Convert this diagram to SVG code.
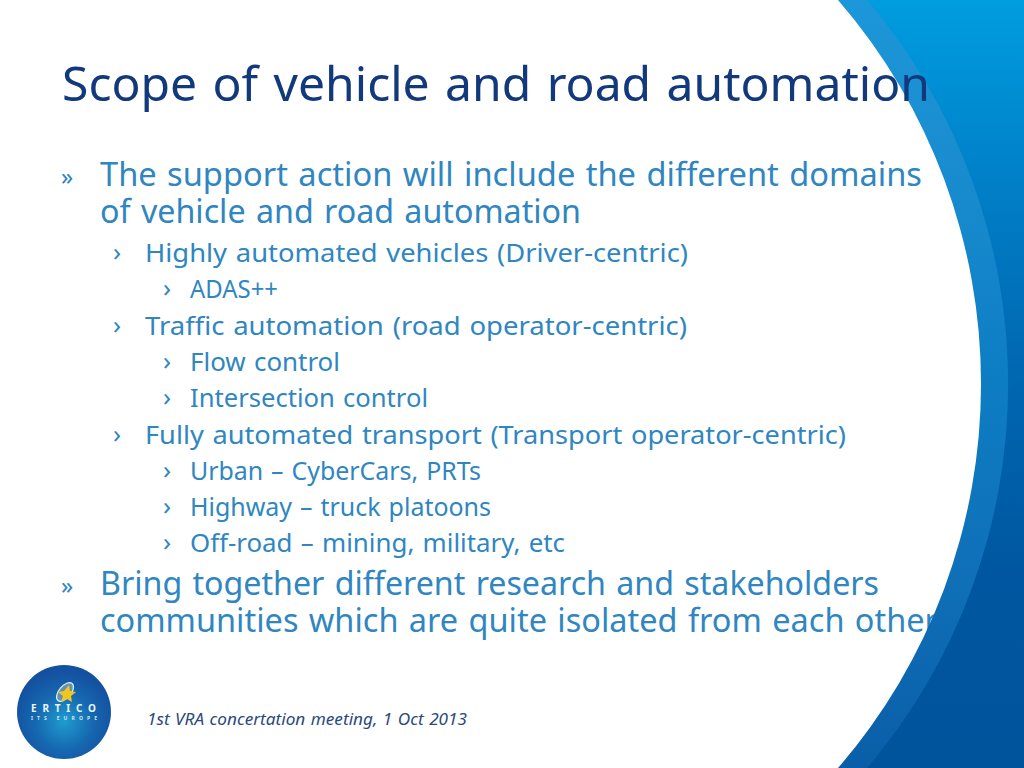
<svg xmlns="http://www.w3.org/2000/svg" width="1024" height="768" viewBox="0 0 1024 768">
<style>
text{font-family:"Noto Sans","Open Sans",sans-serif;word-spacing:.06em}
.t{font-size:48px;fill:#12397c}
.l1{font-size:32px;fill:#2f86c1}
.l2{font-size:26px;fill:#2f86c1}
.f{font-size:16px;font-style:italic;fill:#2b4a7c}
.b{font-size:24px}
</style>
<defs>
<linearGradient id="band" gradientUnits="userSpaceOnUse" x1="0" y1="0" x2="0" y2="768"><stop offset="0" stop-color="#1c97d9"/><stop offset=".2" stop-color="#1a8dd0"/><stop offset=".5" stop-color="#0d7dc3"/><stop offset=".75" stop-color="#0f70b8"/><stop offset="1" stop-color="#0a5ea8"/></linearGradient>
<linearGradient id="main" gradientUnits="userSpaceOnUse" x1="0" y1="0" x2="0" y2="768"><stop offset="0" stop-color="#009ddf"/><stop offset=".25" stop-color="#007ec6"/><stop offset=".5" stop-color="#0066b0"/><stop offset=".75" stop-color="#0056a0"/><stop offset="1" stop-color="#00549c"/></linearGradient>
<radialGradient id="disc" cx=".5" cy=".6" r=".55"><stop offset="0" stop-color="#1f9ccf"/><stop offset=".55" stop-color="#1668b0"/><stop offset="1" stop-color="#14509f"/></radialGradient>
</defs>
<rect width="1024" height="768" fill="#fff"/>
<g id="body">
<text class="l1 b" x="61" y="185" style="font-size:24px">»</text>
<text class="l1" x="100" y="186" textLength="822" lengthAdjust="spacingAndGlyphs">The support action will include the different domains</text>
<text class="l1" x="100" y="223" textLength="481" lengthAdjust="spacingAndGlyphs">of vehicle and road automation</text>
<text class="l2" x="113" y="261">›</text>
<text class="l2" x="145" y="262" textLength="543" lengthAdjust="spacingAndGlyphs">Highly automated vehicles (Driver-centric)</text>
<text class="l2" x="163" y="297">›</text>
<text class="l2" x="190" y="298" textLength="88" lengthAdjust="spacingAndGlyphs">ADAS++</text>
<text class="l2" x="113" y="334">›</text>
<text class="l2" x="145" y="335" textLength="542" lengthAdjust="spacingAndGlyphs">Traffic automation (road operator-centric)</text>
<text class="l2" x="163" y="370">›</text>
<text class="l2" x="190" y="371" textLength="150" lengthAdjust="spacingAndGlyphs">Flow control</text>
<text class="l2" x="163" y="406">›</text>
<text class="l2" x="190" y="407" textLength="238" lengthAdjust="spacingAndGlyphs">Intersection control</text>
<text class="l2" x="113" y="443">›</text>
<text class="l2" x="145" y="444" textLength="701" lengthAdjust="spacingAndGlyphs">Fully automated transport (Transport operator-centric)</text>
<text class="l2" x="163" y="479">›</text>
<text class="l2" x="190" y="480" textLength="291" lengthAdjust="spacingAndGlyphs">Urban – CyberCars, PRTs</text>
<text class="l2" x="163" y="515">›</text>
<text class="l2" x="190" y="516" textLength="301" lengthAdjust="spacingAndGlyphs">Highway – truck platoons</text>
<text class="l2" x="163" y="551">›</text>
<text class="l2" x="190" y="552" textLength="375" lengthAdjust="spacingAndGlyphs">Off-road – mining, military, etc</text>
<text class="l1 b" x="61" y="594" style="font-size:24px">»</text>
<text class="l1" x="100" y="595" textLength="779" lengthAdjust="spacingAndGlyphs">Bring together different research and stakeholders</text>
<text class="l1" x="100" y="632" textLength="838" lengthAdjust="spacingAndGlyphs">communities which are quite isolated from each other</text>
</g>
<g id="swoosh">
<path d="M838 0A587 587 0 0 1 838 768H1024V0Z" fill="url(#band)"/>
<path d="M867 0A593 593 0 0 1 867 768H1024V0Z" fill="url(#main)"/>
</g>
<text id="title" class="t" x="62" y="101" textLength="868" lengthAdjust="spacingAndGlyphs">Scope of vehicle and road automation</text>
<g id="logo">
<circle cx="64" cy="712" r="47" fill="url(#disc)"/>
<ellipse cx="65" cy="692" rx="6" ry="11" transform="rotate(40 65 692)" fill="#5f93b8" stroke="#e4eff4" stroke-width="1.2"/>
<path d="M69 685l1 6 6 1-5 4 1 6-5-3-6 3 2-6-5-4 6-1z" fill="#f2c61f"/>
<text x="31" y="712" textLength="65" style="font-size:10px;font-weight:700;fill:#eef5f9">ERTICO</text>
<text x="31" y="720" textLength="66" style="font-size:5px;font-weight:700;fill:#d4e6f0">ITS EUROPE</text>
</g>
<text id="footer" class="f" x="147" y="725" textLength="320" lengthAdjust="spacingAndGlyphs">1st VRA concertation meeting, 1 Oct 2013</text>
</svg>
